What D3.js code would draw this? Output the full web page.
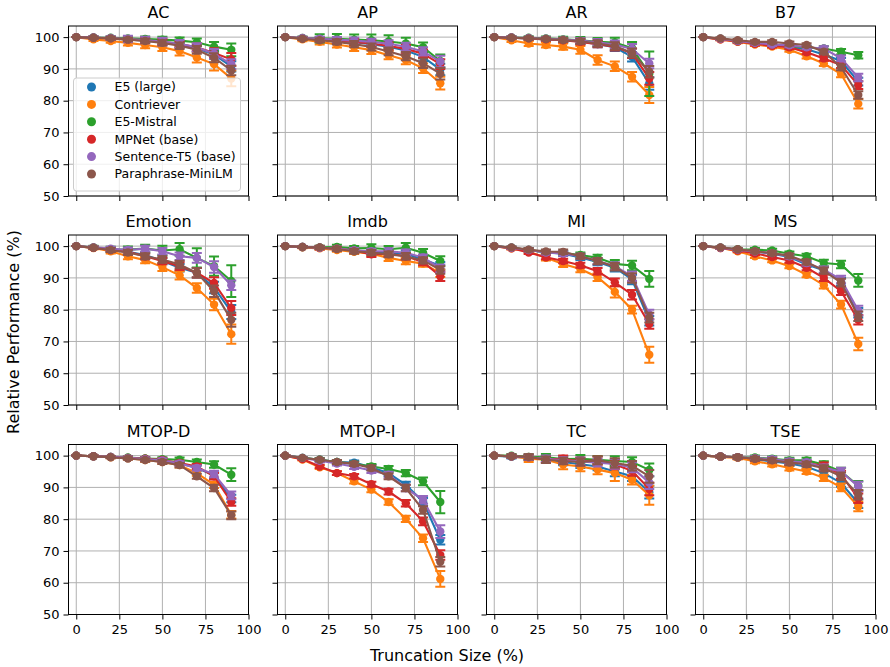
<!DOCTYPE html>
<html><head><meta charset="utf-8">
<script src="https://cdn.jsdelivr.net/npm/d3@7"></script>
<style>body{margin:0;background:#fff}svg{font-family:"DejaVu Sans",sans-serif}</style>
</head><body><svg id="c" width="890" height="667"></svg>
<script>
const models = ["E5 (large)","Contriever","E5-Mistral","MPNet (base)","Sentence-T5 (base)","Paraphrase-MiniLM"];
const colors = ["#1f77b4","#ff7f0e","#2ca02c","#d62728","#9467bd","#8c564b"];
const truncation = [0,10,20,30,40,50,60,70,80,90];
const xTicks = [0,25,50,75,100];
const yTicks = [50,60,70,80,90,100];
const datasets = ["AC","AP","AR","B7","Emotion","Imdb","MI","MS","MTOP-D","MTOP-I","TC","TSE"];

const AC_mean = [
 [100,99.8,99.6,99.3,98.9,98.4,97.6,96.5,94.5,90.8],
 [100,99.3,98.8,98.2,97.5,96.8,95.6,93.6,91.5,87.0],
 [100,99.9,99.8,99.6,99.4,99.2,98.9,98.4,97.0,96.0],
 [100,99.8,99.6,99.3,99.0,98.5,97.8,96.8,95.0,93.0],
 [100,99.9,99.7,99.4,99.1,98.6,97.9,96.8,94.8,91.5],
 [100,99.8,99.6,99.2,98.8,98.2,97.3,96.0,93.5,89.5]];
const AC_err = [
 [0,0.3,0.4,0.5,0.6,0.7,0.9,1.1,1.3,1.6],
 [0,0.5,0.6,0.8,1.0,1.2,1.4,1.6,2.0,2.5],
 [0,0.4,0.5,0.6,0.8,0.9,1.0,1.2,1.5,2.0],
 [0,0.3,0.5,0.6,0.7,0.9,1.0,1.2,1.5,2.0],
 [0,0.4,0.6,1.0,1.0,1.2,1.2,1.3,1.5,1.5],
 [0,0.3,0.4,0.5,0.7,0.8,1.0,1.2,1.4,1.5]];

const AP_mean = [
 [100,99.6,99.3,98.9,98.4,97.8,97.0,95.8,93.8,89.8],
 [100,99.3,98.5,97.7,96.8,95.9,94.3,92.8,90.2,85.5],
 [100,99.7,99.6,99.5,99.2,99.0,98.6,98.0,96.8,92.5],
 [100,99.6,99.3,99.0,98.5,98.0,97.2,96.3,94.8,91.5],
 [100,99.7,99.5,99.2,98.9,98.5,97.9,97.0,95.5,92.3],
 [100,99.5,99.0,98.5,97.8,96.9,95.5,94.0,91.8,88.5]];
const AP_err = [
 [0,0.4,0.6,0.8,1.0,1.0,1.1,1.2,1.4,1.8],
 [0,0.6,0.8,1.0,1.2,1.2,1.3,1.3,1.5,2.0],
 [0,0.5,1.3,1.5,1.6,1.8,2.0,1.8,1.5,2.0],
 [0,0.4,0.6,0.8,0.9,1.0,1.1,1.2,1.3,1.5],
 [0,0.4,0.6,0.8,1.0,1.0,1.1,1.2,1.3,1.8],
 [0,0.4,0.6,0.8,1.0,1.1,1.2,1.3,1.5,1.8]];

const AR_mean = [
 [100,99.8,99.6,99.3,99.0,98.6,97.8,96.8,93.8,85.4],
 [100,99.0,98.0,97.5,97.0,96.0,92.8,90.8,87.5,81.8],
 [100,99.9,99.8,99.6,99.3,99.0,98.5,98.3,96.5,88.5],
 [100,99.8,99.6,99.3,99.0,98.5,97.8,97.0,94.9,87.0],
 [100,99.9,99.7,99.5,99.2,98.9,98.4,97.7,96.3,91.7],
 [100,99.8,99.6,99.4,99.1,98.7,98.0,97.2,95.0,89.1]];
const AR_err = [
 [0,0.3,0.4,0.5,0.6,0.8,1.0,1.2,1.5,2.0],
 [0,0.5,0.8,0.8,1.0,1.2,1.5,1.5,1.5,2.5],
 [0,0.4,0.5,0.6,0.8,1.0,1.2,1.5,2.0,7.0],
 [0,0.3,0.4,0.5,0.6,0.8,1.0,1.2,1.5,2.0],
 [0,0.3,0.4,0.5,0.6,0.8,1.0,1.2,1.5,1.5],
 [0,0.3,0.4,0.5,0.6,0.8,1.0,1.2,1.4,1.8]];

const B7_mean = [
 [100,99.4,98.7,98.0,97.5,96.8,96.2,94.5,92.5,86.0],
 [100,99.3,98.5,97.7,97.0,96.0,94.0,91.7,88.4,79.0],
 [100,99.5,98.8,98.1,97.6,97.2,96.7,96.4,95.4,94.3],
 [100,99.3,98.6,97.9,97.3,96.8,95.2,93.3,91.2,84.9],
 [100,99.5,98.8,98.2,97.7,97.4,96.8,96.4,93.3,87.3],
 [100,99.6,99.0,98.5,98.5,98.0,97.5,95.4,90.5,81.8]];
const B7_err = [
 [0,0.3,0.4,0.5,0.5,0.6,0.6,0.7,0.9,1.2],
 [0,0.3,0.4,0.5,0.5,0.6,0.7,0.8,1.0,1.5],
 [0,0.3,0.4,0.5,0.5,0.6,0.6,0.7,0.9,1.0],
 [0,0.3,0.4,0.5,0.5,0.6,0.6,0.7,0.9,1.2],
 [0,0.3,0.4,0.5,0.5,0.6,0.6,0.7,0.9,1.2],
 [0,0.3,0.4,0.5,0.5,0.6,0.6,0.7,0.9,1.2]];

const Emotion_mean = [
 [100,99.5,98.7,98.2,97.2,95.3,93.2,91.6,87.0,79.3],
 [100,99.4,98.4,96.8,95.6,93.4,90.8,86.8,81.6,72.3],
 [100,99.6,99.0,98.9,99.2,98.6,99.0,96.3,93.7,89.0],
 [100,99.5,98.8,98.2,96.8,95.3,93.7,91.6,88.4,80.5],
 [100,99.6,99.2,98.8,99.2,98.4,96.8,96.3,93.4,87.7],
 [100,99.5,98.8,98.0,96.8,95.8,94.2,91.6,85.8,76.8]];
const Emotion_err = [
 [0,0.4,0.6,0.8,0.9,1.0,1.2,1.5,1.8,2.2],
 [0,0.5,0.7,0.9,1.0,1.2,1.3,1.5,1.8,3.0],
 [0,0.5,0.8,1.0,1.2,1.5,2.0,3.0,3.0,5.0],
 [0,0.4,0.6,0.8,0.9,1.0,1.2,1.5,1.8,2.2],
 [0,0.4,0.6,0.8,0.9,1.0,1.2,1.5,1.8,1.5],
 [0,0.4,0.6,0.8,0.9,1.0,1.2,1.5,1.8,2.2]];

const Imdb_mean = [
 [100,99.7,99.5,99.1,98.6,98.2,97.8,97.6,95.8,93.8],
 [100,99.6,99.3,98.8,98.2,97.6,96.3,95.3,94.5,91.5],
 [100,99.7,99.6,99.7,99.3,99.4,99.0,99.5,97.9,95.3],
 [100,99.7,99.5,99.2,98.6,97.4,97.6,96.8,95.0,90.5],
 [100,99.7,99.5,99.2,98.7,98.4,98.4,97.9,96.4,93.0],
 [100,99.7,99.6,99.1,98.4,98.0,97.4,96.8,95.5,92.5]];
const Imdb_err = [
 [0,0.3,0.5,0.6,0.7,0.8,0.9,1.0,1.0,1.2],
 [0,0.3,0.5,0.6,0.7,0.8,1.0,1.0,1.0,1.2],
 [0,0.3,0.5,0.7,0.7,1.2,1.0,1.5,1.2,1.5],
 [0,0.3,0.5,0.6,0.7,0.8,0.9,1.0,1.0,1.5],
 [0,0.3,0.5,0.6,0.7,0.8,0.9,1.0,1.0,1.2],
 [0,0.3,0.5,0.6,0.7,0.8,0.9,1.0,1.0,1.2]];

const MI_mean = [
 [100,99.5,98.8,98.0,97.6,96.4,95.0,93.2,89.5,76.5],
 [100,99.3,98.3,96.3,94.4,92.8,90.2,85.6,80.0,65.8],
 [100,99.5,98.8,98.1,97.8,97.2,96.3,94.4,93.9,89.7],
 [100,99.3,98.0,96.5,95.3,94.0,92.1,88.6,84.7,75.5],
 [100,99.5,98.8,98.0,97.7,96.8,95.3,93.7,90.5,78.5],
 [100,99.6,98.9,98.3,98.2,96.8,95.3,93.5,90.0,77.5]];
const MI_err = [
 [0,0.3,0.5,0.6,0.7,0.8,1.0,1.2,1.5,1.5],
 [0,0.4,0.6,0.8,1.0,1.0,1.2,1.8,1.2,2.5],
 [0,0.3,0.5,0.6,0.7,0.8,1.0,1.2,1.5,2.5],
 [0,0.3,0.5,0.6,0.7,0.8,1.0,1.2,1.5,1.5],
 [0,0.3,0.5,0.6,0.7,0.8,1.0,1.2,1.5,1.5],
 [0,0.3,0.5,0.6,0.7,0.8,1.0,1.2,1.5,1.5]];

const MS_mean = [
 [100,99.5,98.9,98.3,97.6,96.6,94.2,92.4,88.8,79.0],
 [100,99.4,98.4,96.8,95.5,93.7,91.0,87.7,81.6,69.2],
 [100,99.5,99.0,98.9,98.6,97.6,96.8,94.7,94.2,89.2],
 [100,99.4,98.6,97.7,96.6,95.5,93.2,90.0,85.8,76.8],
 [100,99.5,98.9,98.3,97.8,96.8,94.7,92.6,89.5,79.7],
 [100,99.6,99.0,98.4,97.8,97.0,95.0,92.3,88.5,77.9]];
const MS_err = [
 [0,0.3,0.4,0.5,0.6,0.7,0.8,1.0,1.2,1.5],
 [0,0.3,0.4,0.5,0.6,0.7,0.8,1.0,1.2,2.0],
 [0,0.3,0.4,0.5,0.6,0.7,0.8,1.0,1.2,2.0],
 [0,0.3,0.4,0.5,0.6,0.7,0.8,1.0,1.2,1.5],
 [0,0.3,0.4,0.5,0.6,0.7,0.8,1.0,1.2,1.5],
 [0,0.3,0.4,0.5,0.6,0.7,0.8,1.0,1.2,1.5]];

const MTOPD_mean = [
 [100,99.8,99.6,99.3,99.0,98.4,97.6,96.1,93.8,86.5],
 [100,99.8,99.5,99.2,98.6,98.0,97.0,94.5,90.8,81.4],
 [100,99.8,99.6,99.4,99.1,98.9,98.7,98.0,97.2,94.0],
 [100,99.8,99.6,99.3,99.0,98.6,97.7,96.6,93.5,85.4],
 [100,99.8,99.6,99.3,98.9,98.5,97.5,96.1,94.2,87.5],
 [100,99.8,99.5,99.1,98.6,98.0,97.0,93.5,89.8,81.2]];
const MTOPD_err = [
 [0,0.2,0.3,0.4,0.5,0.6,0.7,0.8,1.0,1.2],
 [0,0.2,0.3,0.4,0.5,0.6,0.7,0.8,1.0,1.2],
 [0,0.2,0.3,0.4,0.5,0.6,0.7,0.8,1.0,2.0],
 [0,0.2,0.3,0.4,0.5,0.6,0.7,0.8,1.0,1.2],
 [0,0.2,0.3,0.4,0.5,0.6,0.7,0.8,1.0,1.2],
 [0,0.2,0.3,0.4,0.5,0.6,0.7,0.8,1.0,1.2]];

const MTOPI_mean = [
 [100,99.3,98.7,98.0,97.8,96.3,94.5,90.8,85.5,73.5],
 [100,98.8,96.3,94.5,91.9,89.3,85.4,80.1,74.0,61.2],
 [100,99.3,98.7,98.0,97.4,96.6,95.8,94.5,91.9,85.4],
 [100,98.9,96.6,94.5,93.5,91.0,88.7,85.0,79.3,68.7],
 [100,99.3,98.4,97.5,96.5,95.3,94.0,89.8,86.1,76.1],
 [100,99.3,98.7,98.0,97.4,96.1,93.5,89.8,82.9,66.6]];
const MTOPI_err = [
 [0,0.3,0.5,0.6,0.7,0.8,0.9,1.0,1.2,1.5],
 [0,0.3,0.5,0.6,0.7,0.8,0.9,1.0,1.2,2.5],
 [0,0.3,0.5,0.6,0.7,0.8,0.9,1.0,1.2,3.5],
 [0,0.3,0.5,0.6,0.7,0.8,0.9,1.0,1.2,1.5],
 [0,0.3,0.5,0.6,0.7,0.8,0.9,1.0,1.2,2.0],
 [0,0.3,0.5,0.6,0.7,0.8,0.9,1.0,1.2,1.5]];

const TC_mean = [
 [100,99.6,99.4,98.8,98.0,97.3,96.6,95.0,93.5,88.5],
 [100,99.8,99.0,98.7,97.2,96.6,95.6,94.5,92.4,87.5],
 [100,100.0,99.6,99.5,98.9,99.0,98.7,98.3,98.0,95.5],
 [100,99.8,99.5,98.8,99.0,98.2,98.5,97.2,95.2,89.5],
 [100,99.8,99.5,99.0,98.5,98.2,97.8,97.4,96.3,91.5],
 [100,99.8,99.6,98.7,98.3,98.0,98.5,97.7,96.8,93.5]];
const TC_err = [
 [0,0.5,0.8,1.0,1.0,1.2,1.2,1.5,1.5,2.0],
 [0,0.5,1.0,1.0,1.5,1.5,1.5,2.5,1.5,3.0],
 [0,0.5,0.8,1.0,1.0,1.2,1.2,1.5,1.5,2.0],
 [0,0.5,0.8,1.0,1.0,1.2,1.2,1.5,1.5,2.0],
 [0,0.5,0.8,1.0,1.0,1.2,1.2,1.5,1.5,2.0],
 [0,0.5,0.8,1.0,1.0,1.2,1.2,1.5,1.5,2.0]];

const TSE_mean = [
 [100,99.7,99.5,98.8,98.2,97.5,96.5,94.5,91.4,85.0],
 [100,99.6,99.3,98.2,97.3,96.1,95.0,93.0,90.0,84.0],
 [100,99.7,99.5,99.4,99.0,98.5,98.5,97.2,95.0,90.5],
 [100,99.7,99.5,99.0,98.6,98.0,97.7,96.8,94.0,86.6],
 [100,99.7,99.5,99.2,98.9,98.2,97.9,96.2,95.0,90.3],
 [100,99.7,99.5,99.0,98.5,97.8,97.3,96.0,93.5,87.7]];
const TSE_err = [
 [0,0.3,0.5,0.6,0.7,0.8,0.8,1.0,1.2,1.5],
 [0,0.3,0.5,0.6,0.7,0.8,0.8,1.0,1.2,1.5],
 [0,0.3,0.5,0.6,0.7,0.8,0.8,1.0,1.2,1.5],
 [0,0.3,0.5,0.6,0.7,0.8,0.8,1.0,1.2,1.5],
 [0,0.3,0.5,0.6,0.7,0.8,0.8,1.0,1.2,1.5],
 [0,0.3,0.5,0.6,0.7,0.8,0.8,1.0,1.2,1.5]];

const panelMeans = [AC_mean,AP_mean,AR_mean,B7_mean,Emotion_mean,Imdb_mean,MI_mean,MS_mean,MTOPD_mean,MTOPI_mean,TC_mean,TSE_mean];
const panelErrs = [AC_err,AP_err,AR_err,B7_err,Emotion_err,Imdb_err,MI_err,MS_err,MTOPD_err,MTOPI_err,TC_err,TSE_err];

const svg = d3.select("#c");
const colLeft = [68.5, 277.5, 486.5, 695.5];
const rowTop = [26, 235, 444.5];
const W = 180, H = 170;

const x = d3.scaleLinear().domain([-4.5, 100]).range([0, W]);
const y = d3.scaleLinear().domain([50, 103.5]).range([H, 0]);

datasets.forEach((name, i) => {
  const r = Math.floor(i / 4), c = i % 4;
  const g = svg.append("g").attr("transform", `translate(${colLeft[c]},${rowTop[r]})`);
  g.append("g").selectAll("line").data(xTicks).join("line")
    .attr("x1", d => x(d)).attr("x2", d => x(d)).attr("y1", 0).attr("y2", H)
    .attr("stroke", "#b0b0b0").attr("stroke-width", 1);
  g.append("g").selectAll("line").data(yTicks).join("line")
    .attr("y1", d => y(d)).attr("y2", d => y(d)).attr("x1", 0).attr("x2", W)
    .attr("stroke", "#b0b0b0").attr("stroke-width", 1);
  const xa = g.append("g").attr("transform", `translate(0,${H})`)
    .call(d3.axisBottom(x).tickValues(xTicks).tickSize(5).tickPadding(5).tickFormat(r === 2 ? d3.format("d") : ""));
  const ya = g.append("g")
    .call(d3.axisLeft(y).tickValues(yTicks).tickSize(5).tickPadding(4).tickFormat(c === 0 ? d3.format("d") : ""));
  [xa, ya].forEach(a => {
    a.select(".domain").remove();
    a.selectAll(".tick line").attr("stroke", "#000").attr("stroke-width", 1);
    a.selectAll(".tick text").attr("font-size", 13).attr("fill", "#000").attr("font-family", "DejaVu Sans");
  });
  const clipId = "clip" + i;
  g.append("clipPath").attr("id", clipId).append("rect").attr("width", W).attr("height", H);
  const plot = g.append("g").attr("clip-path", `url(#${clipId})`);
  const means = panelMeans[i], errs = panelErrs[i];
  const line = d3.line().x((d, k) => x(truncation[k])).y(d => y(d));
  means.forEach((series, s) => {
    const col = colors[s];
    const sg = plot.append("g");
    sg.append("path").attr("d", line(series)).attr("fill", "none").attr("stroke", col).attr("stroke-width", 2.1);
    sg.selectAll("line.eb").data(series).join("line").attr("class", "eb")
      .attr("x1", (d, k) => x(truncation[k])).attr("x2", (d, k) => x(truncation[k]))
      .attr("y1", (d, k) => y(d - errs[s][k])).attr("y2", (d, k) => y(d + errs[s][k]))
      .attr("stroke", col).attr("stroke-width", 2);
    [-1, 1].forEach(sign => {
      sg.selectAll("line.cap" + sign).data(series).join("line").attr("class", "cap" + sign)
        .attr("x1", (d, k) => x(truncation[k]) - 5).attr("x2", (d, k) => x(truncation[k]) + 5)
        .attr("y1", (d, k) => y(d + sign * errs[s][k])).attr("y2", (d, k) => y(d + sign * errs[s][k]))
        .attr("stroke", col).attr("stroke-width", 2);
    });
    sg.selectAll("circle").data(series).join("circle")
      .attr("cx", (d, k) => x(truncation[k])).attr("cy", d => y(d)).attr("r", 4.2).attr("fill", col);
  });
  g.append("rect").attr("width", W).attr("height", H).attr("fill", "none").attr("stroke", "#000").attr("stroke-width", 1);
  g.append("text").attr("x", W / 2).attr("y", -8).attr("text-anchor", "middle")
    .attr("font-size", 16).attr("fill", "#000").text(name);
  if (i === 0) {
    const lg = g.append("g").attr("transform", "translate(5,52)");
    lg.append("rect").attr("width", 167).attr("height", 113).attr("rx", 3)
      .attr("fill", "#fff").attr("fill-opacity", 0.8).attr("stroke", "#cccccc");
    models.forEach((m, s) => {
      const yy = 9 + s * 17.4;
      lg.append("circle").attr("cx", 18).attr("cy", yy).attr("r", 4.5).attr("fill", colors[s]);
      lg.append("text").attr("x", 41).attr("y", yy).attr("dy", "0.35em")
        .attr("font-size", 12.5).attr("fill", "#000").text(m);
    });
  }
});

svg.append("text").attr("x", 447).attr("y", 661)
  .attr("text-anchor", "middle").attr("font-size", 16).attr("fill", "#000").text("Truncation Size (%)");
svg.append("text").attr("transform", `translate(19,332) rotate(-90)`)
  .attr("text-anchor", "middle").attr("font-size", 16).attr("fill", "#000").text("Relative Performance (%)");
</script></body></html>
